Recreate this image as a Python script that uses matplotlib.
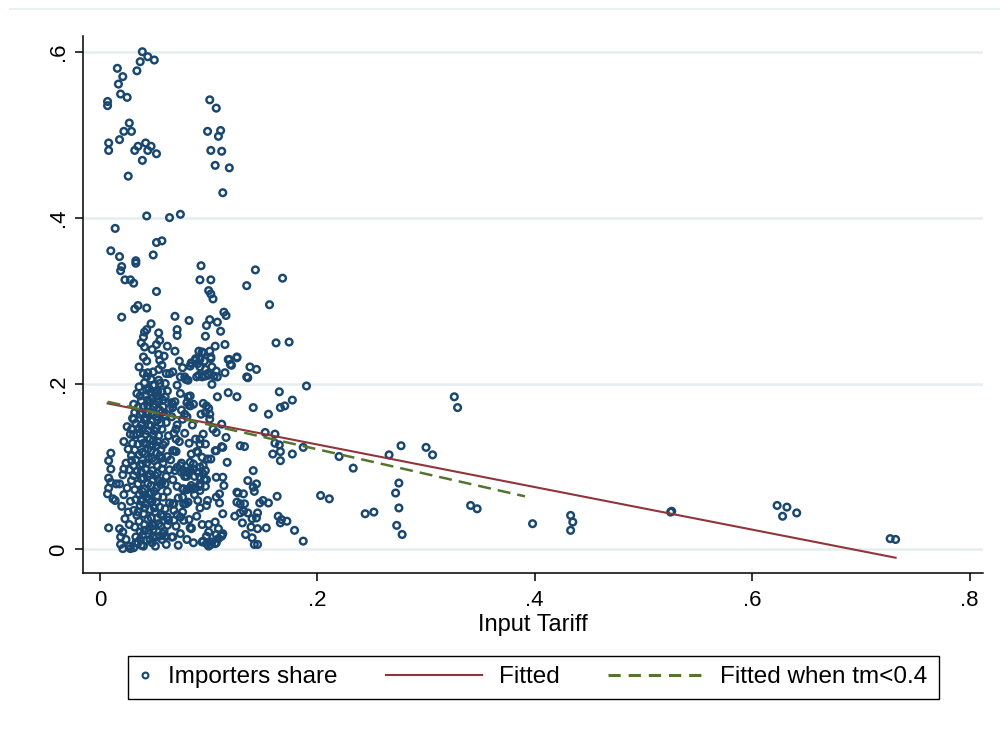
import matplotlib
matplotlib.use("Agg")
import matplotlib.pyplot as plt
from matplotlib.lines import Line2D
from matplotlib.legend_handler import HandlerLine2D

plt.rcParams['font.family'] = ['Liberation Sans', 'DejaVu Sans']

# (input tariff, importers share)
top_pts = [
    (.039, .600), (.044, .594), (.050, .590), (.037, .588), (.016, .580), (.034, .577), (.021, .570),
    (.017, .561), (.019, .549), (.025, .545), (.007, .540), (.007, .535), (.101, .542), (.107, .532),
    (.027, .514), (.022, .504), (.029, .504), (.018, .494), (.008, .490), (.008, .481), (.035, .486),
    (.042, .490), (.047, .486), (.032, .481), (.044, .481), (.052, .477), (.039, .469), (.099, .504),
    (.111, .505), (.109, .498), (.102, .481), (.112, .480), (.106, .463), (.119, .460), (.026, .450),
    (.113, .430), (.043, .402), (.064, .400), (.074, .404),
    (.014, .387), (.052, .370), (.057, .372), (.010, .360), (.018, .353), (.033, .348), (.033, .345),
    (.049, .355), (.020, .341), (.019, .336), (.093, .342), (.143, .337), (.023, .325), (.028, .325),
    (.031, .321), (.092, .325), (.102, .325), (.168, .327), (.135, .318), (.100, .312), (.102, .308),
    (.104, .302), (.052, .311),
]

mid_pts = [
    (.156, .295), (.035, .294), (.032, .290), (.043, .291), (.020, .280), (.069, .281), (.082, .276),
    (.114, .286), (.116, .282), (.101, .277), (.108, .274), (.098, .270), (.047, .272), (.043, .265),
    (.041, .262), (.040, .256), (.038, .249), (.054, .261), (.071, .265), (.071, .258), (.097, .257),
    (.111, .263), (.162, .249), (.174, .250), (.041, .244), (.052, .247), (.062, .245), (.069, .239),
    (.048, .241), (.091, .239), (.095, .237), (.101, .239), (.106, .245), (.115, .247), (.126, .232),
    (.119, .229), (.121, .222), (.054, .235), (.059, .233), (.043, .227), (.055, .228), (.036, .220),
    (.057, .222), (.054, .217), (.073, .227), (.084, .224), (.088, .228), (.092, .229), (.096, .227),
    (.102, .230), (.103, .220), (.097, .217), (.092, .220), (.107, .215), (.115, .213), (.043, .208),
    (.064, .212), (.067, .214), (.078, .208), (.091, .210), (.094, .208), (.099, .212), (.138, .220),
    (.144, .217), (.135, .208), (.136, .207), (.079, .205), (.081, .204), (.105, .209), (.108, .208),
    (.103, .199), (.118, .229), (.120, .223), (.126, .231), (.094, .238), (.102, .232), (.088, .230),
    (.084, .225), (.090, .224), (.076, .219), (.083, .221), (.100, .210), (.097, .209),
    (.040, .212), (.049, .214), (.061, .212), (.074, .208), (.089, .208), (.054, .204),
]

side_pts = [
    (.190, .197), (.165, .190), (.177, .180), (.166, .171), (.170, .173), (.141, .171), (.155, .163),
    (.126, .184), (.118, .189), (.108, .184), (.152, .141), (.161, .139), (.161, .128), (.165, .126),
    (.159, .115), (.166, .118), (.166, .107), (.177, .115), (.187, .123), (.129, .125), (.133, .124),
    (.117, .105), (.112, .124), (.106, .119), (.116, .135), (.112, .151), (.141, .095), (.136, .083),
    (.144, .079), (.141, .075), (.142, .070), (.127, .068), (.132, .067), (.163, .064), (.147, .056),
    (.150, .059), (.155, .056), (.129, .055), (.133, .055), (.110, .056), (.113, .043), (.124, .040),
    (.129, .044), (.132, .046), (.136, .044), (.145, .044), (.131, .032), (.140, .037), (.144, .038),
    (.139, .027), (.145, .025), (.153, .026), (.134, .018), (.140, .014), (.142, .006), (.145, .006),
    (.164, .040), (.167, .036), (.166, .032), (.172, .034), (.179, .023), (.187, .010), (.107, .087),
    (.113, .087), (.114, .077), (.110, .067), (.106, .033), (.109, .025), (.113, .019), (.112, .016),
    (.109, .013), (.107, .008), (.102, .006), (.100, .004), (.095, .010), (.094, .030), (.100, .030),
    (.098, .016), (.084, .026), (.077, .035), (.082, .036), (.074, .019), (.107, .119), (.113, .123),
    (.126, .069), (.126, .057), (.107, .063), (.104, .145), (.107, .141),
]

inner_pts = [
    (.096, .084), (.092, .079), (.097, .076), (.092, .071), (.087, .066), (.090, .059), (.099, .059),
    (.098, .053), (.092, .050), (.079, .055), (.077, .055), (.076, .073), (.084, .073), (.078, .094),
    (.082, .095), (.075, .104), (.086, .103), (.090, .117), (.094, .111), (.099, .109), (.102, .109),
    (.095, .101), (.097, .095), (.092, .133), (.095, .139), (.097, .127), (.092, .127), (.095, .176),
    (.098, .173), (.100, .170), (.097, .165), (.101, .163), (.093, .163), (.101, .157), (.081, .184),
    (.080, .177), (.083, .173), (.078, .163), (.076, .157), (.068, .119), (.065, .108), (.074, .101),
    (.069, .095), (.080, .093), (.083, .105), (.089, .118), (.068, .055), (.081, .057), (.052, .057),
    (.050, .029), (.058, .019), (.062, .039), (.071, .042), (.083, .026), (.100, .021), (.107, .018),
    (.112, .018), (.098, .007), (.103, .009), (.106, .007), (.094, .009), (.060, .079), (.071, .076),
    (.077, .073), (.080, .072), (.084, .077), (.088, .074), (.092, .076), (.071, .099), (.075, .093),
    (.078, .088), (.083, .095), (.090, .093), (.092, .087), (.098, .084), (.095, .091), (.092, .099),
    (.082, .174), (.067, .175), (.067, .171), (.070, .145), (.070, .133), (.067, .119), (.086, .097),
    (.077, .095), (.080, .088), (.067, .055), (.076, .063), (.083, .074), (.086, .073), (.074, .039),
    (.068, .035), (.062, .029), (.067, .015), (.084, .025), (.049, .198), (.055, .200), (.071, .198),
    (.051, .188), (.060, .184), (.066, .177), (.083, .185), (.086, .175), (.044, .173),
]

left_pts = [
    (.010, .116), (.008, .107), (.010, .097), (.008, .086), (.010, .081), (.008, .074), (.007, .067),
    (.015, .079), (.018, .079), (.014, .059), (.012, .061), (.022, .097), (.008, .026), (.018, .025),
    (.019, .015), (.021, .001), (.028, .001), (.031, .157), (.041, .156), (.029, .107), (.031, .101),
]

core_pts = [
    (.019, .006), (.024, .012), (.021, .021), (.027, .030), (.023, .037), (.026, .045), (.020, .052),
    (.028, .058), (.022, .066), (.025, .074), (.029, .083), (.021, .090), (.027, .096), (.024, .104),
    (.029, .113), (.026, .121), (.022, .130), (.028, .139), (.025, .148), (.030, .158), (.027, .004),
    (.031, .002), (.035, .008), (.033, .015), (.037, .021), (.032, .027), (.036, .034), (.034, .041),
    (.031, .047), (.037, .053), (.033, .060), (.036, .066), (.032, .072), (.035, .079), (.038, .085),
    (.031, .089), (.034, .094), (.037, .101), (.033, .108), (.036, .114), (.032, .120), (.035, .127),
    (.038, .133), (.034, .139), (.036, .146), (.033, .152), (.037, .163), (.035, .171), (.038, .179),
    (.034, .188), (.036, .196),
    (.040, .004), (.043, .011), (.039, .017), (.045, .023), (.041, .030), (.044, .036), (.040, .043),
    (.046, .048), (.042, .055), (.039, .061), (.045, .067), (.041, .073), (.044, .079), (.040, .086),
    (.046, .091), (.042, .097), (.039, .103), (.045, .109), (.041, .115), (.044, .121), (.040, .128),
    (.046, .133), (.042, .139), (.039, .145), (.045, .150), (.041, .158), (.044, .165), (.040, .172),
    (.046, .178), (.042, .186), (.045, .194), (.041, .201), (.044, .213), (.040, .232),
    (.048, .008), (.052, .015), (.049, .024), (.054, .031), (.047, .038), (.051, .045), (.055, .051),
    (.048, .058), (.053, .064), (.050, .070), (.047, .077), (.054, .083), (.051, .089), (.048, .095),
    (.053, .101), (.050, .107), (.055, .113), (.047, .119), (.052, .125), (.049, .131), (.054, .137),
    (.050, .143), (.047, .149), (.053, .156), (.049, .162), (.055, .168), (.051, .175), (.048, .182),
    (.053, .190), (.050, .198), (.047, .205), (.055, .252),
    (.057, .012), (.061, .006), (.059, .022), (.063, .035), (.056, .042), (.060, .049), (.064, .056),
    (.058, .063), (.062, .070), (.057, .081), (.061, .088), (.064, .096), (.058, .104), (.062, .112),
    (.056, .120), (.060, .129), (.063, .137), (.057, .145), (.061, .153), (.059, .162), (.064, .170),
    (.058, .180), (.062, .191), (.060, .200),
    (.066, .015), (.070, .028), (.068, .047), (.072, .062), (.067, .084), (.070, .118), (.073, .130),
    (.068, .140), (.071, .150), (.066, .160), (.075, .168), (.069, .178), (.074, .188), (.078, .140),
    (.082, .128), (.085, .150), (.080, .160), (.088, .133), (.084, .115), (.087, .088), (.089, .040),
    (.076, .045), (.080, .012), (.086, .008), (.072, .005), (.060, .016), (.055, .016), (.049, .015),
    (.041, .023), (.038, .005), (.046, .027), (.049, .029),
]

# the solid-looking blob between .03 and .06
blob_pts = [
    (.038, .058), (.043, .063), (.047, .068), (.052, .074), (.056, .078), (.039, .070), (.044, .088),
    (.049, .084), (.053, .092), (.057, .097), (.038, .094), (.043, .104), (.048, .110), (.052, .116),
    (.057, .110), (.039, .117), (.043, .127), (.048, .125), (.053, .130), (.058, .126), (.037, .140),
    (.044, .143), (.049, .138), (.052, .146), (.056, .152), (.038, .150), (.043, .158), (.048, .165),
    (.052, .160), (.057, .165), (.039, .165), (.044, .180), (.049, .172), (.054, .178), (.058, .172),
    (.037, .185), (.043, .192), (.047, .190), (.052, .185), (.057, .190), (.031, .138), (.030, .128),
    (.029, .145), (.032, .165), (.031, .175), (.045, .060), (.050, .050), (.041, .050), (.035, .045),
    (.058, .040), (.053, .038), (.046, .012), (.037, .012), (.033, .008), (.051, .004), (.056, .028),
]

right_pts = [
    (.326, .184), (.329, .171), (.220, .112), (.233, .098), (.266, .114), (.277, .125), (.300, .123),
    (.306, .114), (.275, .080), (.272, .068), (.275, .050), (.273, .029), (.278, .018), (.203, .065),
    (.211, .061), (.244, .043), (.252, .045), (.341, .053), (.347, .049), (.398, .031), (.433, .041),
    (.435, .033), (.433, .023), (.525, .045), (.526, .046), (.623, .053), (.632, .051), (.628, .040),
    (.641, .044), (.727, .013), (.732, .012),
]

# fitted lines (all data, and tm < 0.4 only)
fit_x = [0.007, 0.732]
fit_y = [0.176, -0.010]
fit04_x = [0.007, 0.391]
fit04_y = [0.178, 0.064]

xticks = [0, .2, .4, .6, .8]
xlabels = ['0', '.2', '.4', '.6', '.8']
yticks = [0, .2, .4, .6]
ylabels = ['0', '.2', '.4', '.6']

navy = '#1a476f'
maroon = '#90353b'
green = '#55752f'

fig = plt.figure(figsize=(10, 7.34), dpi=100)
ax = fig.add_axes([0.083, 0.2187, 0.900, 0.7323])

pts = top_pts + mid_pts + side_pts + inner_pts + left_pts + core_pts + blob_pts + right_pts
ax.scatter([p[0] for p in pts], [p[1] for p in pts], s=23, facecolors='none',
           edgecolors=navy, linewidths=1.75, zorder=3)
ax.plot(fit_x, fit_y, color=maroon, lw=1.5, zorder=4)
ax.plot(fit04_x, fit04_y, color=green, lw=1.8, dashes=(5.2, 2.8), zorder=5)

ax.set_xlim(-0.0156, 0.8124)
ax.set_ylim(-0.029, 0.619)
ax.set_xticks(xticks)
ax.set_xticklabels(xlabels)
ax.set_yticks(yticks)
ax.set_yticklabels(ylabels, rotation=90, va='center')
ax.grid(axis='y', color='#e6edf0', lw=1.8)
ax.set_axisbelow(True)
for s in ['top', 'right']:
    ax.spines[s].set_visible(False)
for s in ['left', 'bottom']:
    ax.spines[s].set_linewidth(1.1)
ax.tick_params(length=6, width=1.1, labelsize=16, direction='out')
ax.tick_params(axis='x', pad=6)
ax.tick_params(axis='y', pad=4)
ax.set_xlabel('Input Tariff', fontsize=17, labelpad=2)

# faint border line of the graph region at the very top
fig.add_artist(Line2D([0.01, 1.0], [0.988, 0.988], color='#eaf0f2', lw=1.5))

h_pts = Line2D([], [], ls='none', marker='o', ms=4.2, mfc='none', mec=navy, mew=1.5)
h_fit = Line2D([], [], color=maroon, lw=1.5)
h_fit04 = Line2D([], [], color=green, lw=2.2, dashes=(4.0, 2.6))
long_key = HandlerLine2D(xpad=-3.45)
leg = fig.legend([h_pts, h_fit, h_fit04], ['Importers share', 'Fitted', 'Fitted when tm<0.4'],
                 loc='center', bbox_to_anchor=(0.5335, 0.077), ncol=3, fontsize=17.5,
                 handlelength=0.5, handletextpad=0.68, columnspacing=5.45, borderpad=0.45,
                 frameon=True, fancybox=False, edgecolor='black', framealpha=1,
                 handler_map={h_fit: long_key, h_fit04: long_key})
leg.get_frame().set_linewidth(1.0)

fig.savefig('out.png', dpi=100)
